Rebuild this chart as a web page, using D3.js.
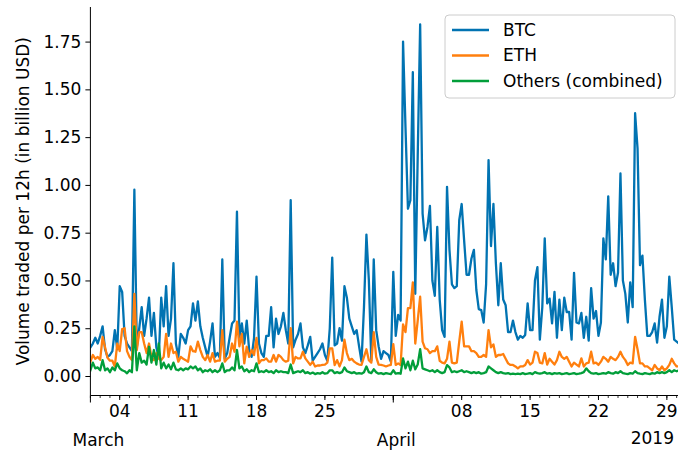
<!DOCTYPE html>
<html><head><meta charset="utf-8">
<script src="https://cdn.jsdelivr.net/npm/d3@7/dist/d3.min.js"></script>
<style>body{margin:0;background:#fff}svg{display:block}text{font-family:"DejaVu Sans",sans-serif;fill:#000}</style>
</head><body><svg id="c" width="678" height="451"></svg>
<script>
// time index: 6-hour steps starting 2019-03-01 00:00 UTC
const startDate = Date.UTC(2019, 2, 1);
const stepHours = 6;

const btc = [
0.15,0.17,0.20,0.17,0.21,0.26,0.14,0.10,0.11,0.13,0.24,0.14,0.47,0.44,0.21,0.17,0.15,0.13,0.975,0.15,
0.25,0.36,0.21,0.30,0.41,0.21,0.33,0.15,0.10,0.41,0.26,0.47,0.21,0.30,0.59,0.17,0.10,0.22,0.20,0.17,
0.24,0.26,0.38,0.29,0.39,0.26,0.20,0.15,0.10,0.18,0.275,0.10,0.12,0.095,0.61,0.09,0.12,0.20,0.275,0.29,
0.86,0.205,0.275,0.17,0.29,0.135,0.10,0.20,0.52,0.17,0.12,0.10,0.21,0.21,0.36,0.15,0.30,0.22,0.26,0.33,
0.24,0.17,0.92,0.15,0.19,0.22,0.275,0.15,0.12,0.16,0.205,0.08,0.10,0.12,0.14,0.17,0.11,0.08,0.25,0.62,
0.16,0.17,0.25,0.185,0.47,0.41,0.30,0.26,0.22,0.24,0.155,0.075,0.36,0.74,0.50,0.08,0.61,0.24,0.155,0.09,
0.13,0.12,0.11,0.075,0.545,0.21,0.32,0.29,1.75,1.30,0.875,0.92,1.59,0.43,1.15,1.84,0.85,0.71,0.78,0.89,
0.50,0.42,0.78,0.40,0.24,0.205,0.99,0.66,0.48,0.46,0.47,0.815,0.90,0.71,0.53,0.53,0.615,0.66,0.45,0.35,
0.345,0.28,0.48,1.13,0.68,0.90,0.59,0.37,0.59,0.40,0.37,0.23,0.23,0.29,0.23,0.19,0.21,0.20,0.215,0.38,
0.24,0.24,0.50,0.57,0.19,0.36,0.72,0.38,0.405,0.275,0.44,0.20,0.40,0.24,0.41,0.335,0.335,0.19,0.54,0.28,
0.275,0.33,0.20,0.31,0.185,0.46,0.30,0.34,0.21,0.28,0.72,0.61,0.94,0.53,0.59,0.47,0.54,1.06,0.50,0.43,
0.28,0.49,0.36,1.375,1.19,0.58,0.63,0.40,0.21,0.21,0.23,0.275,0.175,0.31,0.40,0.20,0.26,0.52,0.36,0.19,
0.18,0.17];

const eth = [
0.075,0.11,0.09,0.10,0.085,0.205,0.15,0.095,0.08,0.08,0.05,0.17,0.13,0.245,0.25,0.13,0.10,0.083,0.43,0.135,
0.23,0.23,0.17,0.12,0.17,0.10,0.083,0.12,0.09,0.083,0.10,0.22,0.10,0.17,0.12,0.127,0.075,0.10,0.09,0.083,
0.075,0.155,0.13,0.127,0.18,0.136,0.10,0.083,0.11,0.075,0.12,0.075,0.08,0.08,0.24,0.075,0.09,0.10,0.17,0.127,
0.285,0.155,0.22,0.066,0.153,0.10,0.136,0.11,0.20,0.066,0.083,0.083,0.092,0.075,0.075,0.11,0.075,0.11,0.10,0.083,
0.075,0.08,0.25,0.066,0.10,0.092,0.092,0.127,0.092,0.075,0.058,0.075,0.05,0.055,0.055,0.058,0.06,0.07,0.145,0.145,
0.057,0.083,0.05,0.083,0.19,0.12,0.083,0.09,0.075,0.066,0.06,0.058,0.10,0.14,0.083,0.07,0.23,0.10,0.06,0.058,
0.055,0.05,0.055,0.058,0.167,0.058,0.066,0.058,0.27,0.23,0.355,0.355,0.49,0.17,0.29,0.415,0.18,0.145,0.14,0.12,
0.13,0.13,0.155,0.08,0.07,0.066,0.09,0.18,0.07,0.066,0.07,0.18,0.285,0.155,0.155,0.155,0.13,0.13,0.12,0.10,
0.10,0.11,0.10,0.24,0.15,0.165,0.10,0.11,0.11,0.115,0.09,0.066,0.058,0.058,0.05,0.04,0.05,0.05,0.058,0.083,
0.06,0.07,0.127,0.12,0.07,0.066,0.12,0.06,0.09,0.075,0.06,0.083,0.127,0.10,0.09,0.10,0.075,0.05,0.07,0.06,
0.05,0.092,0.05,0.066,0.07,0.127,0.066,0.07,0.058,0.075,0.10,0.09,0.075,0.10,0.09,0.083,0.10,0.127,0.10,0.083,
0.058,0.07,0.066,0.205,0.14,0.066,0.066,0.05,0.05,0.04,0.03,0.058,0.04,0.03,0.05,0.03,0.04,0.058,0.09,0.066,
0.05,0.05];

const others = [
0.03,0.07,0.04,0.045,0.03,0.083,0.03,0.04,0.02,0.045,0.03,0.066,0.04,0.03,0.025,0.014,0.03,0.02,0.26,0.03,
0.12,0.07,0.08,0.06,0.153,0.07,0.136,0.06,0.17,0.04,0.07,0.04,0.06,0.035,0.07,0.035,0.03,0.04,0.03,0.04,
0.035,0.05,0.04,0.05,0.03,0.04,0.02,0.03,0.025,0.035,0.02,0.03,0.02,0.03,0.066,0.02,0.03,0.03,0.045,0.03,
0.136,0.04,0.05,0.025,0.035,0.02,0.03,0.025,0.066,0.02,0.025,0.02,0.03,0.02,0.025,0.015,0.03,0.02,0.025,0.02,
0.02,0.015,0.06,0.015,0.02,0.025,0.02,0.03,0.015,0.02,0.012,0.018,0.01,0.015,0.012,0.02,0.012,0.015,0.03,0.03,
0.015,0.02,0.015,0.02,0.045,0.025,0.02,0.015,0.02,0.012,0.015,0.012,0.02,0.05,0.02,0.015,0.035,0.02,0.012,0.015,
0.01,0.015,0.012,0.01,0.03,0.012,0.015,0.012,0.092,0.04,0.075,0.03,0.08,0.035,0.06,0.14,0.04,0.035,0.03,0.025,
0.03,0.02,0.03,0.02,0.015,0.02,0.057,0.045,0.02,0.025,0.02,0.025,0.03,0.02,0.025,0.02,0.015,0.02,0.015,0.02,
0.012,0.015,0.02,0.05,0.04,0.03,0.02,0.015,0.02,0.015,0.012,0.015,0.01,0.012,0.01,0.012,0.01,0.015,0.01,0.012,
0.015,0.01,0.02,0.015,0.012,0.015,0.02,0.012,0.015,0.01,0.015,0.012,0.015,0.01,0.012,0.015,0.01,0.012,0.015,0.01,
0.012,0.015,0.02,0.04,0.025,0.015,0.012,0.015,0.01,0.012,0.015,0.012,0.02,0.015,0.012,0.02,0.015,0.025,0.015,0.012,
0.01,0.015,0.012,0.025,0.015,0.012,0.01,0.015,0.012,0.01,0.015,0.012,0.02,0.015,0.02,0.015,0.02,0.03,0.02,0.03,
0.025,0.03];

const seriesNames = ["BTC", "ETH", "Others (combined)"];
const seriesColors = ["#0173b2", "#ff7f0e", "#029e3a"];
const yTickValues = [0, 0.25, 0.5, 0.75, 1.0, 1.25, 1.5, 1.75];
const dayTickLabels = ["04", "11", "18", "25", "08", "15", "22", "29"];
const monthLabels = ["March", "April"];
const yearLabel = "2019";
const yLabel = "Volume traded per 12h (in billion USD)";

(function () {
const pL = 90.4, pR = 678, pT = 7, pB = 395.5;
const svg = d3.select("#c");

const t0 = new Date(startDate);
const t1 = new Date(startDate + 60.14 * 864e5);
const x = d3.scaleUtc().domain([t0, t1]).range([pL, pR]);
const y = d3.scaleLinear().domain([-0.102, 1.931]).range([pB, pT]);

const dateAt = i => new Date(startDate + i * stepHours * 36e5);
const allSeries = [btc, eth, others];

svg.append("clipPath").attr("id", "pc").append("rect")
  .attr("x", pL).attr("y", pT).attr("width", pR - pL).attr("height", pB - pT);

const line = d3.line().x((d, i) => x(dateAt(i))).y(d => y(d));
const g = svg.append("g").attr("clip-path", "url(#pc)");
allSeries.forEach((s, k) => {
  g.append("path").datum(s).attr("fill", "none").attr("stroke", seriesColors[k])
    .attr("stroke-width", 2.3).attr("stroke-linejoin", "round").attr("stroke-linecap", "square").attr("d", line);
});

// y axis
const yAxis = d3.axisLeft(y).tickValues(yTickValues).tickFormat(d3.format(".2f")).tickSize(5).tickPadding(4);
const ya = svg.append("g").attr("transform", `translate(${pL},0)`).call(yAxis);
ya.select(".domain").remove();
ya.selectAll("line").attr("stroke", "#000").attr("stroke-width", 1);
ya.selectAll("text").style("font-size", "17px").style("font-family", "DejaVu Sans");
svg.append("line").attr("x1", pL).attr("x2", pL).attr("y1", pT).attr("y2", pB)
  .attr("stroke", "#000").attr("stroke-width", 1);

// x axis
const ax = svg.append("g").attr("transform", `translate(0,${pB})`);
ax.append("line").attr("x1", pL).attr("x2", pR).attr("y1", 0).attr("y2", 0).attr("stroke", "#000").attr("stroke-width", 1);
const days = d3.utcDay.range(t0, t1);
const mondays = d3.utcMonday.range(t0, t1);
const monthStarts = d3.utcMonth.range(t0, t1);
ax.selectAll(".dt").data(days).join("line").attr("x1", d => x(d)).attr("x2", d => x(d))
  .attr("y1", 0).attr("y2", 2.5).attr("stroke", "#000").attr("stroke-width", 0.8);
ax.selectAll(".wt").data(mondays).join("line").attr("x1", d => x(d)).attr("x2", d => x(d))
  .attr("y1", 0).attr("y2", 4.5).attr("stroke", "#000").attr("stroke-width", 1);
ax.selectAll(".mt").data(monthStarts).join("line").attr("x1", d => x(d)).attr("x2", d => x(d))
  .attr("y1", 0).attr("y2", 7).attr("stroke", "#000").attr("stroke-width", 1);
const labelledMondays = mondays.filter(d => d.getUTCDate() !== 1);
ax.selectAll(".wl").data(labelledMondays).join("text")
  .attr("x", d => x(d)).attr("y", 21).attr("text-anchor", "middle").style("font-size", "17px")
  .text((d, i) => dayTickLabels[i]);
ax.selectAll(".ml").data(monthStarts).join("text")
  .attr("x", (d, i) => x(d) + (i === 0 ? 8 : 3)).attr("y", 50).attr("text-anchor", "middle").style("font-size", "17px")
  .text((d, i) => monthLabels[i]);
ax.append("text").attr("x", 674).attr("y", 48).attr("text-anchor", "end").style("font-size", "17px").text(yearLabel);

// y label
svg.append("text").attr("transform", `translate(23,${(pT + pB) / 2}) rotate(-90)`)
  .attr("text-anchor", "middle").attr("dy", "0.35em").style("font-size", "17px").text(yLabel);

// legend
const lg = svg.append("g");
lg.append("rect").attr("x", 445).attr("y", 15).attr("width", 230).attr("height", 83).attr("rx", 4)
  .attr("fill", "#fff").attr("fill-opacity", 0.8).attr("stroke", "#cccccc").attr("stroke-width", 1);
seriesNames.forEach((n, k) => {
  const yy = 30 + k * 25.5;
  lg.append("line").attr("x1", 452).attr("x2", 489).attr("y1", yy).attr("y2", yy)
    .attr("stroke", seriesColors[k]).attr("stroke-width", 2.3);
  lg.append("text").attr("x", 503).attr("y", yy).attr("dy", "0.35em").style("font-size", "17px").text(n);
});
})();
</script></body></html>
